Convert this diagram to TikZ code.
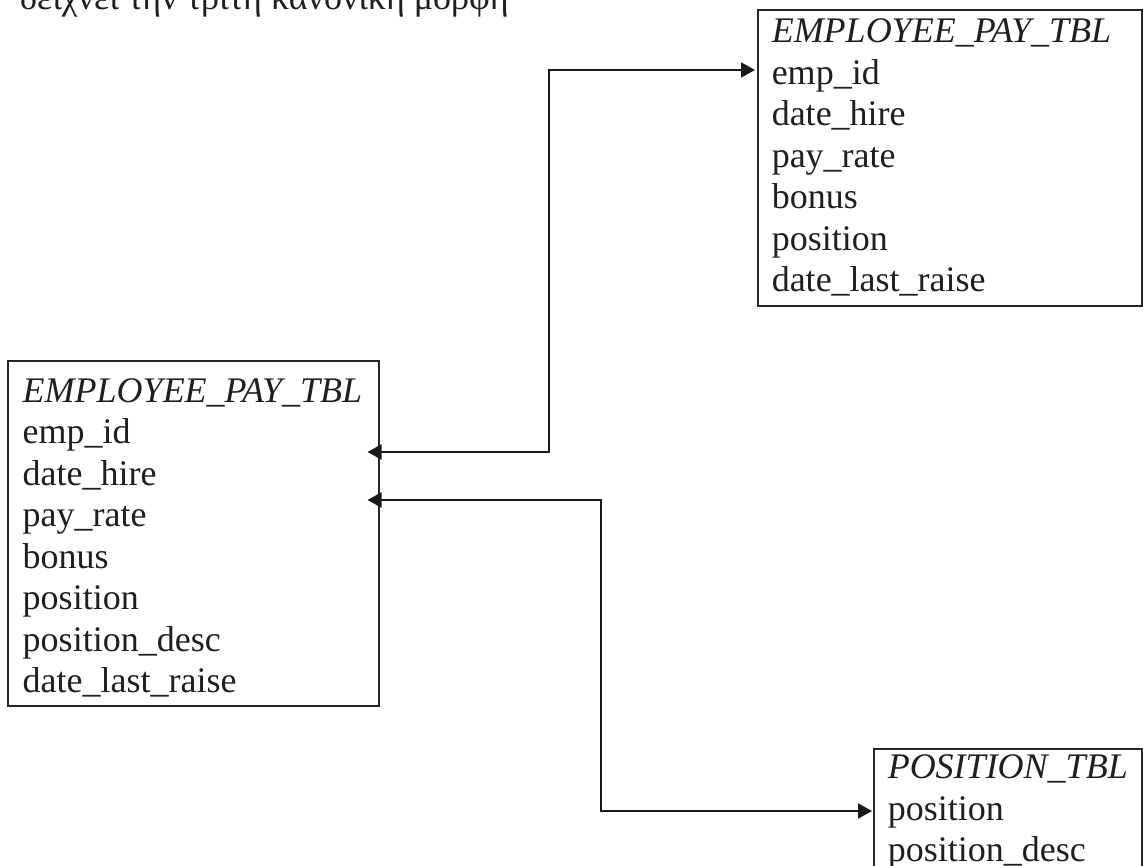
\documentclass[tikz,border=0pt]{standalone}
\usepackage{fontspec}
\setmainfont{Liberation Serif}
\usetikzlibrary{arrows.meta,calc}

\begin{document}
\begin{tikzpicture}[x=1pt,y=-1pt,
  every node/.style={font=\fontsize{36}{41.5}\selectfont, text=black!88},
  tbl/.style={draw=black!85, line width=1.5pt, anchor=north west,
              align=left, inner ysep=0pt},
  conn/.style={draw=black!90, line width=2pt,
               {Triangle[length=14pt,width=15pt]}-{Triangle[length=14pt,width=15pt]}}
]
\useasboundingbox (0,0) rectangle (1143,865);
\clip (0,0) rectangle (1143,865);

% caption line running off the top edge
\node[anchor=base west, inner sep=0pt] (cap) at (20,9)
  {δείχνει την τρίτη κανονική μορφή};

% table boxes
\node[tbl, inner xsep=14pt, text width=356pt, minimum height=296pt] (emp2) at (757,9)
  {\textit{EMPLOYEE\_PAY\_TBL}\\ emp\_id\\ date\_hire\\ pay\_rate\\ bonus\\ position\\ date\_last\_raise};

\node[tbl, inner xsep=15pt, text width=341pt, minimum height=345pt] (emp1) at (7,360)
  {\rule{0pt}{33pt}\textit{EMPLOYEE\_PAY\_TBL}\\ emp\_id\\ date\_hire\\ pay\_rate\\ bonus\\ position\\ position\_desc\\ date\_last\_raise};

\node[tbl, inner xsep=14pt, text width=240pt, minimum height=127pt] (pos) at (873,748)
  {\textit{POSITION\_TBL}\\ position\\ position\_desc};

% relationships
\draw[conn] ($(emp2.north west)+(-2,61)$) -- ++(-206,0)
            |- ($(emp1.north east)+(-12,92)$);
\draw[conn] ($(emp1.north east)+(-12,140)$) -- ++(233,0)
            |- ($(pos.north west)+(-1,63)$);
\end{tikzpicture}
\end{document}
